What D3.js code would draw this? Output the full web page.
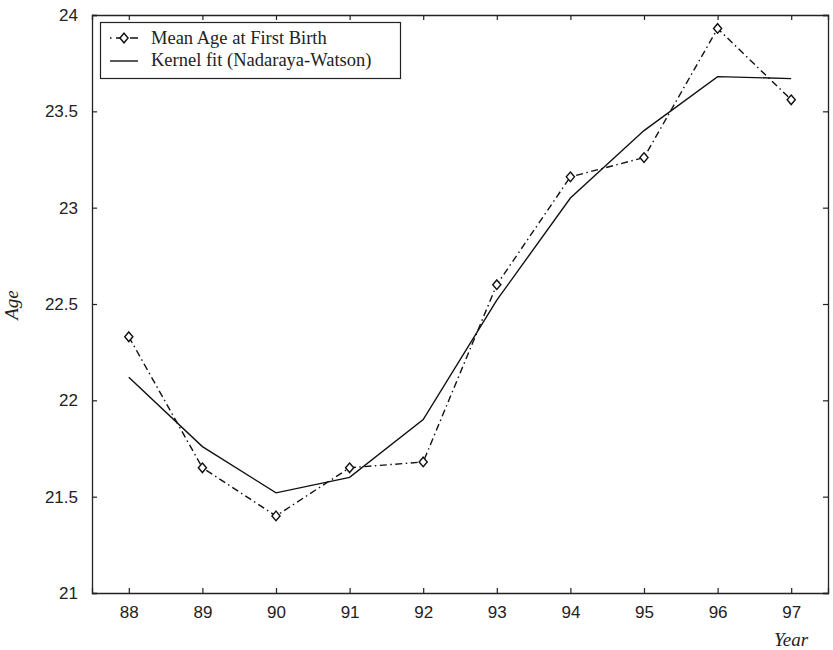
<!DOCTYPE html>
<html>
<head>
<meta charset="utf-8">
<script src="https://cdn.jsdelivr.net/npm/d3@7"></script>
<style>
  html, body { margin: 0; padding: 0; background: #fff; }
  svg { display: block; }
</style>
</head>
<body>
<svg id="chart" width="833" height="650"></svg>
<script>
// Years (two-digit) and observed / smoothed mean age at first birth
const years = [88, 89, 90, 91, 92, 93, 94, 95, 96, 97];
const meanAge = [22.33, 21.65, 21.40, 21.65, 21.68, 22.60, 23.16, 23.26, 23.93, 23.56];
const kernelFit = [22.12, 21.76, 21.52, 21.60, 21.90, 22.52, 23.05, 23.40, 23.68, 23.67];
const yTicks = [21, 21.5, 22, 22.5, 23, 23.5, 24];
const seriesNames = ["Mean Age at First Birth", "Kernel fit (Nadaraya-Watson)"];

const svg = d3.select("#chart");
const m = { left: 92, right: 828, top: 15, bottom: 593 };

const x = d3.scaleLinear().domain([87.5, 97.5]).range([m.left, m.right]);
const y = d3.scaleLinear().domain([21, 24]).range([m.bottom, m.top]);

const tickFont = "'Liberation Sans', Arial, sans-serif";
const serif = "'Liberation Serif', 'Times New Roman', serif";

// Axes with inward ticks on all four sides
const axBottom = d3.axisBottom(x).tickValues(years).tickSize(-5).tickPadding(13).tickFormat(d3.format("d"));
const axLeft = d3.axisLeft(y).tickValues(yTicks).tickSize(-5).tickPadding(14).tickFormat(d => d3.format("")(d));
const axTop = d3.axisTop(x).tickValues(years).tickSize(-5).tickFormat("");
const axRight = d3.axisRight(y).tickValues(yTicks).tickSize(-5).tickFormat("");

function style(g) {
  g.select(".domain").attr("stroke", "#222").attr("stroke-width", 1.3);
  g.selectAll(".tick line").attr("stroke", "#222").attr("stroke-width", 1.2);
  g.selectAll(".tick text").attr("font-family", tickFont).attr("font-size", 17).attr("fill", "#222");
}

svg.append("g").attr("transform", `translate(0,${m.bottom})`).call(axBottom).call(style);
svg.append("g").attr("transform", `translate(${m.left},0)`).call(axLeft).call(style);
svg.append("g").attr("transform", `translate(0,${m.top})`).call(axTop).call(style);
svg.append("g").attr("transform", `translate(${m.right},0)`).call(axRight).call(style);

// Axis titles
svg.append("text")
  .attr("x", 791).attr("y", 646)
  .attr("text-anchor", "middle")
  .attr("font-family", serif).attr("font-style", "italic").attr("font-size", 19)
  .attr("fill", "#222")
  .text("Year");

svg.append("text")
  .attr("transform", "translate(18,305) rotate(-90)")
  .attr("text-anchor", "middle")
  .attr("font-family", serif).attr("font-style", "italic").attr("font-size", 19)
  .attr("fill", "#222")
  .text("Age");

const dashDot = "7,3.5,1.5,3.5";

const line = d3.line().x(d => x(d[0])).y(d => y(d[1]));

// Kernel fit (solid)
svg.append("path")
  .datum(years.map((yr, i) => [yr, kernelFit[i]]))
  .attr("d", line)
  .attr("fill", "none").attr("stroke", "#111").attr("stroke-width", 1.4);

// Observed series (dash-dot with diamonds)
const obs = years.map((yr, i) => [yr, meanAge[i]]);
svg.append("path")
  .datum(obs)
  .attr("d", line)
  .attr("fill", "none").attr("stroke", "#111").attr("stroke-width", 1.4)
  .attr("stroke-dasharray", dashDot);

const diamond = (cx, cy, r) => `M${cx},${cy - r}L${cx + r * 0.85},${cy}L${cx},${cy + r}L${cx - r * 0.85},${cy}Z`;

svg.append("g").selectAll("path")
  .data(obs)
  .join("path")
  .attr("d", d => diamond(x(d[0]), y(d[1]), 4.8))
  .attr("fill", "#fff").attr("stroke", "#111").attr("stroke-width", 1.4);

// Legend
const lg = svg.append("g");
lg.append("rect")
  .attr("x", 100.5).attr("y", 22.5).attr("width", 300).attr("height", 56)
  .attr("fill", "#fff").attr("stroke", "#222").attr("stroke-width", 1.2);

lg.append("line")
  .attr("x1", 110).attr("x2", 138).attr("y1", 38).attr("y2", 38)
  .attr("stroke", "#111").attr("stroke-width", 1.4).attr("stroke-dasharray", "1.5,4.5,8,6,8,4.5,1.5");
lg.append("path")
  .attr("d", diamond(124, 38, 4.8))
  .attr("fill", "#fff").attr("stroke", "#111").attr("stroke-width", 1.4);
lg.append("line")
  .attr("x1", 110).attr("x2", 138).attr("y1", 61).attr("y2", 61)
  .attr("stroke", "#111").attr("stroke-width", 1.4);

lg.selectAll("text.lab")
  .data(seriesNames)
  .join("text")
  .attr("class", "lab")
  .attr("x", 151).attr("y", (d, i) => 43.5 + i * 22.5)
  .attr("font-family", serif).attr("font-size", 18.5).attr("fill", "#222")
  .text(d => d);
</script>
</body>
</html>
